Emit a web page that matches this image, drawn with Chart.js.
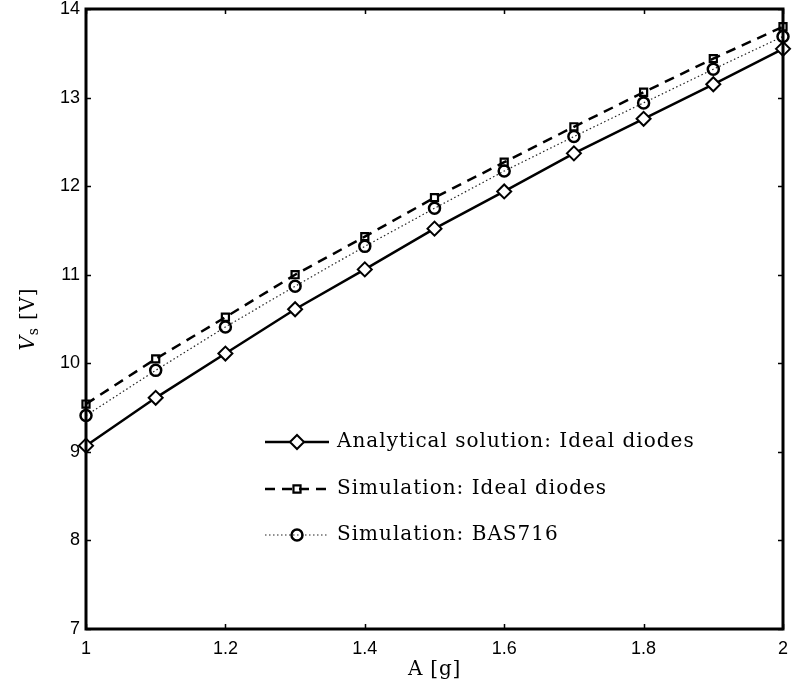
<!DOCTYPE html>
<html>
<head>
<meta charset="utf-8">
<script src="https://cdn.jsdelivr.net/npm/chart.js@4/dist/chart.umd.min.js"></script>
<style>
  html, body { margin: 0; padding: 0; background: #fff; }
  #wrap { width: 792px; height: 697px; }
</style>
</head>
<body>
<div id="wrap"><canvas id="chart" width="792" height="697"></canvas></div>
<script>
// ── data ────────────────────────────────────────────────────────────────
const accel      = [1.0, 1.1, 1.2, 1.3, 1.4, 1.5, 1.6, 1.7, 1.8, 1.9, 2.0];
const analytical = [9.07, 9.61, 10.11, 10.61, 11.06, 11.52, 11.94, 12.37, 12.76, 13.15, 13.55];
const simIdeal   = [9.54, 10.05, 10.52, 11.00, 11.43, 11.87, 12.27, 12.67, 13.06, 13.44, 13.80];
const simBas     = [9.41, 9.92, 10.41, 10.87, 11.32, 11.75, 12.17, 12.56, 12.94, 13.32, 13.69];
const seriesNames = ['Analytical solution: Ideal diodes', 'Simulation: Ideal diodes', 'Simulation: BAS716'];

const xTicks = [1, 1.2, 1.4, 1.6, 1.8, 2];
const yTicks = [7, 8, 9, 10, 11, 12, 13, 14];

const SERIF = '"DejaVu Serif", serif';
const SANS  = '"Liberation Sans", Arial, sans-serif';

const pts = ys => accel.map((x, i) => ({ x, y: ys[i] }));

// ── box + inward ticks (MATLAB style) ────────────────────────────────────
const boxPlugin = {
  id: 'box',
  afterDatasetsDraw(chart) {
    const { ctx, chartArea: a, scales } = chart;
    const tl = 5;
    ctx.save();
    ctx.strokeStyle = '#000';
    ctx.lineWidth = 1.5;
    ctx.beginPath();
    xTicks.forEach(v => {
      const px = Math.round(scales.x.getPixelForValue(v)) + 0.5;
      ctx.moveTo(px, a.bottom); ctx.lineTo(px, a.bottom - tl);
      ctx.moveTo(px, a.top);    ctx.lineTo(px, a.top + tl);
    });
    yTicks.forEach(v => {
      const py = Math.round(scales.y.getPixelForValue(v)) + 0.5;
      ctx.moveTo(a.left, py);  ctx.lineTo(a.left + tl, py);
      ctx.moveTo(a.right, py); ctx.lineTo(a.right - tl, py);
    });
    ctx.stroke();
    ctx.lineWidth = 3;
    ctx.strokeRect(a.left, a.top, a.right - a.left, a.bottom - a.top);
    ctx.restore();
  }
};

// ── legend drawn inside the axes ─────────────────────────────────────────
const legendPlugin = {
  id: 'innerLegend',
  afterDraw(chart) {
    const { ctx } = chart;
    const rows = [442, 489, 535];
    const x0 = 265, x1 = 329, tx = 337;
    ctx.save();
    chart.data.datasets.forEach((ds, i) => {
      const y = rows[i];
      ctx.strokeStyle = ds.borderColor;
      ctx.lineWidth = ds.borderWidth;
      ctx.setLineDash(ds.borderDash || []);
      ctx.beginPath();
      ctx.moveTo(x0, y); ctx.lineTo(x1, y);
      ctx.stroke();
      ctx.setLineDash([]);
      ctx.fillStyle = ds.pointBackgroundColor;
      ctx.strokeStyle = ds.pointBorderColor;
      ctx.lineWidth = ds.pointBorderWidth;
      Chart.helpers.drawPoint(ctx, {
        pointStyle: ds.pointStyle, radius: ds.pointRadius,
        rotation: 0, borderWidth: ds.pointBorderWidth
      }, (x0 + x1) / 2, y);
      ctx.fillStyle = '#000';
      ctx.font = '20px ' + SERIF;
      ctx.letterSpacing = '1px';
      ctx.textAlign = 'left';
      ctx.textBaseline = 'middle';
      ctx.fillText(ds.label, tx, y);
    });
    ctx.restore();
  }
};

// ── axis titles (subscript needs manual drawing) ─────────────────────────
const titlePlugin = {
  id: 'titles',
  afterDraw(chart) {
    const { ctx, chartArea: a } = chart;
    ctx.save();
    ctx.fillStyle = '#000';
    ctx.textBaseline = 'alphabetic';
    ctx.letterSpacing = '0.8px';
    ctx.font = '20px ' + SERIF;
    ctx.textAlign = 'center';
    ctx.fillText('A [g]', (a.left + a.right) / 2, 675);

    // V_s [V], rotated
    ctx.translate(34, (a.top + a.bottom) / 2);
    ctx.rotate(-Math.PI / 2);
    ctx.textAlign = 'left';
    const fV = 'italic 20px ' + SERIF, fS = '14px ' + SERIF, fR = '20px ' + SERIF;
    ctx.font = fV; const wV = ctx.measureText('V').width;
    ctx.font = fS; const wS = ctx.measureText('s').width;
    ctx.font = fR; const wR = ctx.measureText(' [V]').width;
    let x = -(wV + wS + wR) / 2;
    ctx.font = fV; ctx.fillText('V', x, 0); x += wV;
    ctx.font = fS; ctx.fillText('s', x, 4); x += wS;
    ctx.font = fR; ctx.fillText(' [V]', x, 0);
    ctx.restore();
  }
};

new Chart(document.getElementById('chart'), {
  type: 'line',
  data: {
    datasets: [
      {
        label: seriesNames[0],
        data: pts(analytical),
        borderColor: '#000', borderWidth: 2.5,
        pointStyle: 'rectRot', pointRadius: 7,
        pointBackgroundColor: '#fff', pointBorderColor: '#000', pointBorderWidth: 2,
        clip: false, order: 1
      },
      {
        label: seriesNames[1],
        data: pts(simIdeal),
        borderColor: '#000', borderWidth: 2.5, borderDash: [10, 7],
        pointStyle: 'rect', pointRadius: 5,
        pointBackgroundColor: 'rgba(0,0,0,0)', pointBorderColor: '#000', pointBorderWidth: 2.2,
        clip: false, order: 2
      },
      {
        label: seriesNames[2],
        data: pts(simBas),
        borderColor: '#222', borderWidth: 1.2, borderDash: [1.5, 2.5],
        pointStyle: 'circle', pointRadius: 5.5,
        pointBackgroundColor: 'rgba(0,0,0,0)', pointBorderColor: '#000', pointBorderWidth: 2.5,
        clip: false, order: 3
      }
    ]
  },
  options: {
    responsive: false,
    animation: false,
    devicePixelRatio: 1,
    layout: { padding: { top: 7, right: 9, left: 0, bottom: 0 } },
    elements: { line: { tension: 0 } },
    plugins: { legend: { display: false }, tooltip: { enabled: false } },
    scales: {
      x: {
        type: 'linear', min: 1, max: 2,
        afterBuildTicks: s => { s.ticks = xTicks.map(v => ({ value: v })); },
        afterFit: s => { s.height = 68; s.paddingLeft = 0; s.paddingRight = 0; },
        grid: { display: false, drawTicks: false },
        border: { display: false },
        ticks: {
          padding: 9, color: '#000', font: { family: SANS, size: 18 },
          maxRotation: 0, autoSkip: false,
          callback: v => String(Number(v.toFixed(2)))
        }
      },
      y: {
        type: 'linear', min: 7, max: 14,
        afterBuildTicks: s => { s.ticks = yTicks.map(v => ({ value: v })); },
        afterFit: s => { s.width = 86; s.paddingTop = 0; s.paddingBottom = 0; },
        grid: { display: false, drawTicks: false },
        border: { display: false },
        ticks: {
          padding: 6, color: '#000', font: { family: SANS, size: 18 },
          autoSkip: false,
          callback: v => String(v)
        }
      }
    }
  },
  plugins: [boxPlugin, legendPlugin, titlePlugin]
});
</script>
</body>
</html>
